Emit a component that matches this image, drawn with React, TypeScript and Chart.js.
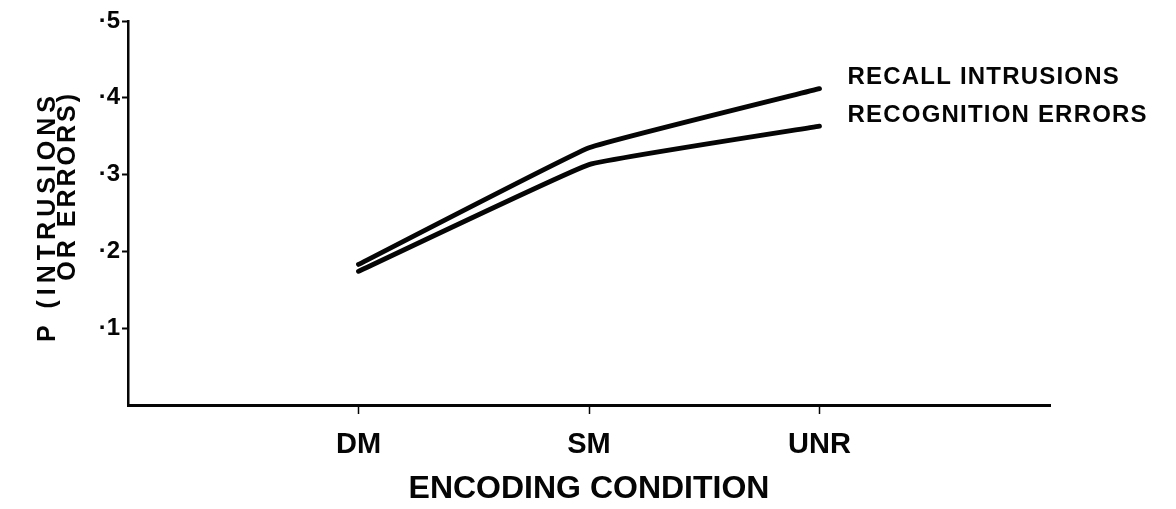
import React, { useEffect, useRef } from 'react';
import { Chart, registerables } from 'chart.js';

Chart.register(...registerables);

// ---- data ----
const categories = ['DM', 'SM', 'UNR'];
const recallIntrusions = [0.183, 0.335, 0.412];
const recognitionErrors = [0.174, 0.313, 0.363];
const seriesNames = ['RECALL INTRUSIONS', 'RECOGNITION ERRORS'];
const yTickValues = [0.1, 0.2, 0.3, 0.4, 0.5];
const yTickLabels = ['·1', '·2', '·3', '·4', '·5'];
const yTitleLines = ['P (INTRUSIONS', 'OR ERRORS)'];
const xTitle = 'ENCODING CONDITION';

const FONT = "'Liberation Sans', Arial, Helvetica, sans-serif";
const INK = '#050505';

const seriesLabelPlugin = {
  id: 'seriesLabels',
  afterDatasetsDraw(chart: any) {
    const ctx = chart.ctx as CanvasRenderingContext2D;
    ctx.save();
    ctx.font = `bold 24px ${FONT}`;
    ctx.fillStyle = INK;
    ctx.textAlign = 'left';
    ctx.textBaseline = 'middle';
    (ctx as any).letterSpacing = '1.2px';
    chart.data.datasets.forEach((ds: any, i: number) => {
      const meta = chart.getDatasetMeta(i);
      const last = meta.data[meta.data.length - 1];
      ctx.fillText(ds.label, last.x + 28, last.y - 11);
    });
    ctx.restore();
  },
};

const yTitleSpacing = ['5px', '3px'];

const yTitlePlugin = {
  id: 'yTitle',
  afterDraw(chart: any) {
    const ctx = chart.ctx as CanvasRenderingContext2D;
    const area = chart.chartArea;
    ctx.save();
    ctx.font = `bold 25px ${FONT}`;
    ctx.fillStyle = INK;
    ctx.textAlign = 'right';
    ctx.textBaseline = 'middle';
    yTitleLines.forEach((line, i) => {
      ctx.save();
      (ctx as any).letterSpacing = yTitleSpacing[i];
      ctx.translate(area.left - 80 + i * 20, area.top + 70);
      ctx.rotate(-Math.PI / 2);
      ctx.fillText(line, 0, 0);
      ctx.restore();
    });
    ctx.restore();
  },
};

export default function App() {
  const ref = useRef<HTMLCanvasElement>(null);

  useEffect(() => {
    const toPoints = (vals: number[]) => vals.map((y, i) => ({ x: i + 1, y }));
    const lineStyle = {
      borderColor: INK,
      backgroundColor: INK,
      borderWidth: 4.8,
      pointRadius: 0,
      tension: 0.08,
      borderCapStyle: 'round' as const,
      borderJoinStyle: 'round' as const,
      fill: false,
    };
    const chart = new Chart(ref.current as HTMLCanvasElement, {
      type: 'line',
      data: {
        datasets: [
          { label: seriesNames[0], data: toPoints(recallIntrusions), ...lineStyle },
          { label: seriesNames[1], data: toPoints(recognitionErrors), ...lineStyle },
        ],
      },
      options: {
        animation: false,
        responsive: false,
        layout: { padding: { top: 21, right: 126, bottom: 0, left: 0 } },
        plugins: { legend: { display: false }, tooltip: { enabled: false } },
        scales: {
          x: {
            type: 'linear',
            min: 0,
            max: categories.length + 1,
            afterBuildTicks: (axis: any) => {
              axis.ticks = categories.map((_, i) => ({ value: i + 1 }));
            },
            afterFit: (axis: any) => {
              axis.height = 104;
            },
            ticks: {
              callback: (_v: any, index: number) => categories[index] ?? '',
              font: { family: FONT, size: 29, weight: 'bold' },
              color: INK,
              padding: 14,
              maxRotation: 0,
              autoSkip: false,
            },
            grid: {
              drawOnChartArea: false,
              drawTicks: true,
              tickLength: 9,
              tickWidth: 1.5,
              tickColor: INK,
            },
            border: { display: true, color: INK, width: 3 },
            title: {
              display: true,
              text: xTitle,
              font: { family: FONT, size: 32, weight: 'bold' },
              color: INK,
              padding: { top: 0, bottom: 1 },
            },
          },
          y: {
            type: 'linear',
            min: 0,
            max: 0.5,
            afterBuildTicks: (axis: any) => {
              axis.ticks = yTickValues.map((v) => ({ value: v }));
            },
            afterFit: (axis: any) => {
              axis.width = 128;
            },
            ticks: {
              callback: (_v: any, index: number) => yTickLabels[index] ?? '',
              font: { family: FONT, size: 24, weight: 'bold' },
              color: INK,
              padding: 2,
            },
            grid: {
              drawOnChartArea: false,
              drawTicks: true,
              tickLength: 6,
              tickWidth: 2,
              tickColor: INK,
            },
            border: { display: true, color: INK, width: 2.5 },
          },
        },
      } as any,
      plugins: [seriesLabelPlugin, yTitlePlugin],
    });
    return () => chart.destroy();
  }, []);

  return (
    <div style={{ position: 'absolute', left: 0, top: 0, width: 1176, height: 509, background: '#fff' }}>
      <canvas ref={ref} width={1176} height={509} style={{ display: 'block' }} />
    </div>
  );
}
